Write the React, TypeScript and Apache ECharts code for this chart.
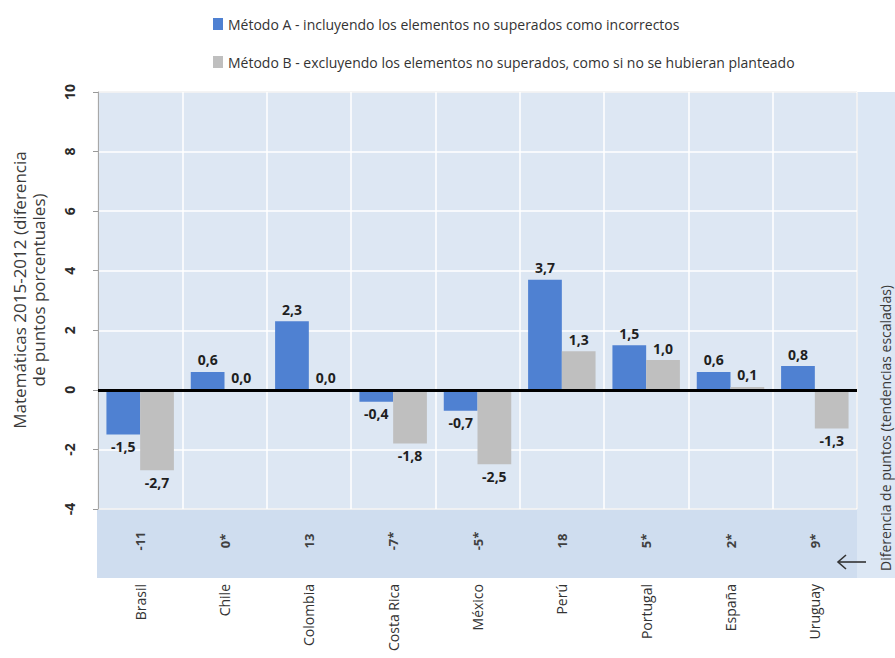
import React, { useEffect, useRef } from "react";
import * as echarts from "echarts";

const countries = ["Brasil", "Chile", "Colombia", "Costa Rica", "México", "Perú", "Portugal", "España", "Uruguay"];
const trendLabels = ["-11", "0*", "13", "-7*", "-5*", "18", "5*", "2*", "9*"];
const methodA = [-1.5, 0.6, 2.3, -0.4, -0.7, 3.7, 1.5, 0.6, 0.8];
const methodB = [-2.7, 0.0, 0.0, -1.8, -2.5, 1.3, 1.0, 0.1, -1.3];
const seriesNames = [
  "Método A - incluyendo los elementos no superados como incorrectos",
  "Método B - excluyendo los elementos no superados, como si no se hubieran planteado",
];
const yAxisTitle = "Matemáticas 2015-2012 (diferencia\nde puntos porcentuales)";
const rightTitle = "Diferencia de puntos (tendencias escaladas)";

const FONT = "'Open Sans', 'Noto Sans', sans-serif";
const BLUE = "#4f81d2";
const GRAY = "#bfbfbf";

const fmt = (v: number) => v.toFixed(1).replace(".", ",");

const toData = (arr: number[]) =>
  arr.map((v) => ({ value: v, label: { position: v < 0 ? "bottom" : "top" } }));

export default function App() {
  const ref = useRef<HTMLDivElement>(null);
  useEffect(() => {
    document.body.style.margin = "0";
    if (!ref.current) return;
    const chart = echarts.init(ref.current, null, { renderer: "svg" });
    const labelCfg = {
      show: true,
      formatter: (p: any) => fmt(p.value),
      fontFamily: FONT,
      fontWeight: "bold",
      fontSize: 14,
      color: "#1f1f1f",
      distance: 5,
    };
    chart.setOption({
      animation: false,
      backgroundColor: "#ffffff",
      legend: {
        orient: "vertical",
        left: 208,
        top: 12,
        itemWidth: 10,
        itemHeight: 12,
        itemGap: 24,
        icon: "rect",
        selectedMode: false,
        textStyle: { fontFamily: FONT, fontSize: 14, color: "#333" },
        data: seriesNames,
      },
      grid: {
        left: 98,
        right: 38,
        top: 92,
        bottom: 149,
        show: true,
        backgroundColor: "#dde7f3",
        borderColor: "#a8a8a8",
        borderWidth: 1,
      },
      graphic: [
        {
          type: "rect",
          z: -10,
          shape: { x: 97, y: 509, width: 773, height: 69 },
          style: { fill: "#cfddef" },
          silent: true,
        },
        {
          type: "rect",
          z: -10,
          shape: { x: 857, y: 92, width: 38, height: 486 },
          style: { fill: "#dce7f4" },
          silent: true,
        },
        {
          type: "text",
          x: 29,
          y: 290,
          rotation: Math.PI / 2,
          style: {
            text: yAxisTitle,
            fontFamily: FONT,
            fontSize: 17,
            lineHeight: 19,
            fill: "#3a3a3a",
            align: "center",
            verticalAlign: "middle",
          },
        },
        {
          type: "text",
          x: 885,
          y: 428,
          rotation: Math.PI / 2,
          style: {
            text: rightTitle,
            fontFamily: FONT,
            fontSize: 14,
            fill: "#3a3a3a",
            align: "center",
            verticalAlign: "middle",
          },
        },
        {
          type: "line",
          shape: { x1: 838, y1: 562, x2: 866, y2: 562 },
          style: { stroke: "#333", lineWidth: 1.6 },
        },
        {
          type: "polyline",
          shape: { points: [[846, 555], [838, 562], [846, 569]] },
          style: { stroke: "#333", lineWidth: 1.6, fill: "none" },
        },
      ],
      xAxis: [
        {
          type: "category",
          data: countries,
          position: "bottom",
          axisLine: { show: false, onZero: false },
          axisTick: { show: false },
          axisLabel: {
            interval: 0,
            rotate: 90,
            margin: 75,
            fontFamily: FONT,
            fontSize: 14,
            color: "#333",
          },
          splitLine: { show: true, interval: 0, lineStyle: { color: "#ffffff", width: 1.5 } },
        },
        {
          type: "category",
          data: trendLabels,
          position: "bottom",
          axisLine: { show: false, onZero: false },
          axisTick: { show: false },
          axisLabel: {
            interval: 0,
            rotate: 90,
            margin: 32,
            align: "center",
            verticalAlign: "middle",
            fontFamily: FONT,
            fontSize: 13,
            fontWeight: "bold",
            color: "#404040",
          },
          splitLine: { show: false },
        },
      ],
      yAxis: {
        type: "value",
        min: -4,
        max: 10,
        interval: 2,
        axisLine: { show: true, lineStyle: { color: "#a8a8a8" } },
        axisTick: { show: true, length: 5, lineStyle: { color: "#999" } },
        axisLabel: {
          rotate: 90,
          margin: 22,
          align: "center",
          verticalAlign: "bottom",
          fontFamily: FONT,
          fontSize: 14,
          fontWeight: "bold",
          color: "#2a2a2a",
        },
        splitLine: { show: true, lineStyle: { color: "#ffffff", width: 1.5 } },
      },
      series: [
        {
          name: seriesNames[0],
          type: "bar",
          xAxisIndex: 0,
          data: toData(methodA),
          itemStyle: { color: BLUE },
          barGap: "0%",
          barCategoryGap: "20%",
          label: labelCfg,
          markLine: {
            silent: true,
            symbol: ["none", "none"],
            label: { show: false },
            lineStyle: { color: "#000", width: 3, type: "solid" },
            data: [{ yAxis: 0 }],
          },
        },
        {
          name: seriesNames[1],
          type: "bar",
          xAxisIndex: 0,
          data: toData(methodB),
          itemStyle: { color: GRAY },
          barGap: "0%",
          barCategoryGap: "20%",
          label: labelCfg,
        },
      ],
    });
    return () => chart.dispose();
  }, []);
  return <div ref={ref} style={{ width: 895, height: 658 }} />;
}
